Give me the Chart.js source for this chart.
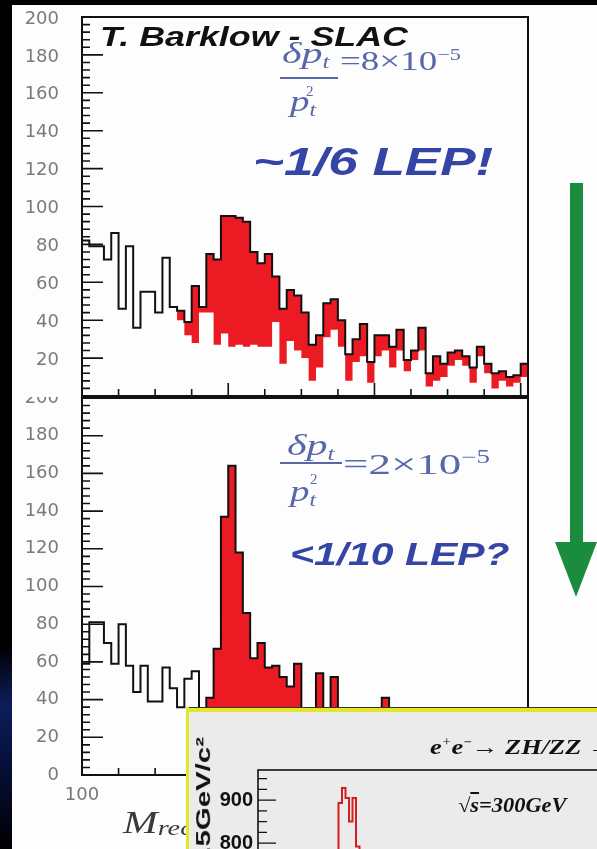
<!DOCTYPE html>
<html><head><meta charset="utf-8">
<script src="https://cdn.jsdelivr.net/npm/chart.js@4.4.1/dist/chart.umd.min.js"></script>
<style>
html,body{margin:0;padding:0;background:#000;width:597px;height:849px;overflow:hidden;position:relative;font-family:'Liberation Sans',sans-serif}
#slide{position:absolute;left:12px;top:5px;width:585px;height:844px;background:#fdfdfd}
#glow{position:absolute;left:0;top:560px;width:12px;height:289px;background:linear-gradient(170deg,#000 0%,#000 30%,#0d1d5c 50%,#06103a 70%,#000 100%)}
canvas{position:absolute}
#cTop{left:12px;top:5px;background:#fdfdfd;z-index:3}
#cBot{left:12px;top:380px;z-index:2}
.t{position:absolute;white-space:nowrap;line-height:1;transform-origin:0 0;z-index:5}
.fml{font-family:'Liberation Serif',serif;color:#5867a8}
.fml sub{font-size:0.6em;vertical-align:-0.25em}
.fml sup{font-size:0.6em;vertical-align:0.6em}
.bar{position:absolute;height:2px;background:#5867a8;z-index:5}
.lep{font-family:'Liberation Sans',sans-serif;font-style:italic;font-weight:bold;color:#3545a5}
#inset{position:absolute;left:186px;top:707px;width:411px;height:142px;overflow:hidden;background:#ebebeb;z-index:10}
#inset canvas{left:0;top:0}
#ytitle{position:absolute;right:405px;top:30px;font:bold 21px 'Liberation Sans',sans-serif;line-height:1;white-space:nowrap;transform-origin:100% 0;transform:rotate(-90deg) scaleX(1.4);color:#111}
</style></head>
<body>
<div id="slide"></div>
<div id="glow"></div>
<canvas id="cBot" width="560" height="469"></canvas>
<canvas id="cTop" width="530" height="392"></canvas>

<div class="t" style="left:100px;top:21px;font:italic bold 28px 'Liberation Sans',sans-serif;color:#111;transform:scaleX(1.28)">T. Barklow - SLAC</div>

<div class="t fml" style="left:282px;top:38px;font-style:italic;font-size:30px;transform:scaleX(1.4)">δp<sub>t</sub></div>
<div class="bar" style="left:280px;top:77px;width:58px"></div>
<div class="t fml" style="left:290px;top:86px;font-style:italic;font-size:30px;transform:scaleX(1.3)">p<sub>t</sub></div>
<div class="t fml" style="left:306px;top:84px;font-size:15px">2</div>
<div class="t fml" style="left:340px;top:47px;font-size:27px;transform:scaleX(1.37)">=8×10<sup>−5</sup></div>
<div class="t lep" style="left:253px;top:142px;font-size:39px;transform:scaleX(1.36)">~1/6 LEP!</div>

<div class="t fml" style="left:287px;top:430px;font-style:italic;font-size:30px;transform:scaleX(1.4)">δp<sub>t</sub></div>
<div class="bar" style="left:280px;top:462px;width:62px"></div>
<div class="t fml" style="left:290px;top:476px;font-style:italic;font-size:30px;transform:scaleX(1.3)">p<sub>t</sub></div>
<div class="t fml" style="left:310px;top:472px;font-size:15px">2</div>
<div class="t fml" style="left:343px;top:448px;font-size:30px;transform:scaleX(1.5)">=2×10<sup>−5</sup></div>
<div class="t lep" style="left:290px;top:539px;font-size:31px;transform:scaleX(1.32)">&lt;1/10 LEP?</div>

<div class="t" style="left:123px;top:804px;font:italic 32px 'Liberation Serif',serif;color:#3a3a3a;transform:scaleX(1.3)">M<sub style="font-size:0.68em;vertical-align:-0.1em">recoil</sub></div>

<svg style="position:absolute;left:0;top:0;z-index:4" width="597" height="849">
  <rect x="570" y="183" width="13" height="362" fill="#1b8c3e"/>
  <polygon points="555,542 597,542 576,597" fill="#1b8c3e"/>
</svg>

<div id="inset">
  <canvas id="cIn" width="456" height="530"></canvas>
  <div style="position:absolute;left:0;top:0;width:411px;height:5px;background:linear-gradient(#333 0 1px,#e5e52a 1px);z-index:3"></div>
  <div style="position:absolute;left:0;top:0;width:3px;height:142px;background:#e5e52a;z-index:3"></div>
  <div class="t" style="left:244px;top:27px;font:italic bold 22px 'Liberation Serif',serif;color:#111;transform:scaleX(1.2)">e<sup style="font-size:0.55em;font-weight:normal">+</sup>e<sup style="font-size:0.55em">−</sup>→ ZH/ZZ →</div>
  <div class="t" style="left:272px;top:87px;font:italic bold 20px 'Liberation Serif',serif;color:#111;transform:scaleX(1.12)">√<span style="text-decoration:overline">s</span>=300GeV</div>
  <div id="ytitle">Events / 0.5GeV/c²</div>
</div>

<script>
// ---------- data ----------
const massStart = 100;          // GeV, first bin low edge
const massBinWidth = 1;         // GeV
const xTickLabels = [100, 120, 140, 160];

const topTotal = [82,79,79,72,86,46,79,36,55,55,
                  44,73,47,45,39,58,47,75,72,95,
                  95,94,92,76,70,75,63,46,56,53,
                  44,27,32,49,51,40,22,30,38,18,
                  32,32,26,35,19,24,36,12,21,17,
                  23,24,21,15,26,17,12,13,10,11,17];
const topBackground = [82,79,79,72,86,46,79,36,55,55,
                  44,73,47,40,32,28,44,44,27,33,
                  26,27,26,27,26,26,39,17,29,24,
                  20,8,15,31,35,26,8,18,21,7,
                  21,24,15,24,13,19,24,5,8,10,
                  16,19,16,7,21,12,4,8,5,7,10];

const bottomTotal = [59,81,81,70,59,80,58,44,58,39,
                  39,57,46,36,51,55,33,41,67,137,
                  164,118,86,62,70,57,58,52,47,59,
                  30,28,54,24,52,30,26,22,27,25,
                  31,41,20,26,18,22,19,24,17,15,
                  20,16,14,18,13,15,12,10,13,11,10];
const bottomBackground = [59,81,81,70,59,80,58,44,58,39,
                  39,57,46,36,51,55,30,30,28,30,
                  27,29,26,28,25,27,24,26,23,25,
                  22,21,24,19,22,20,18,17,19,16,
                  18,17,15,18,13,16,14,17,12,11,
                  14,12,10,13,9,11,9,7,10,8,8];

const insetStart = 116;         // GeV
const insetBinWidth = 0.5;      // GeV
const insetCounts = [120,150,210,300,420,560,720,893,928,905,
                     850,905,792,640,470,330,240,190,160,140];

// ---------- helpers ----------
function histPoints(start, width, values) {
  const pts = [{x: start, y: 0}];
  values.forEach((v, i) => pts.push({x: start + i * width, y: v}));
  const end = start + values.length * width;
  pts.push({x: end, y: values[values.length - 1]});
  pts.push({x: end, y: 0});
  return pts;
}

const frameTicks = {
  id: 'frameTicks',
  afterDatasetsDraw(chart, args, o) {
    if (!o || !o.on) return;
    const {ctx, chartArea: a} = chart;
    const xs = chart.scales.x, ys = chart.scales.y;
    const isMul = (v, m) => Math.abs(v / m - Math.round(v / m)) < 1e-6;
    ctx.save();
    ctx.strokeStyle = '#111';
    ctx.lineWidth = o.tickWidth;
    ctx.beginPath();
    for (let v = o.yFrom; v <= o.yTo + 1e-9; v += o.yMinor) {
      const py = ys.getPixelForValue(v);
      const len = isMul(v, o.yMajor) ? o.yMajorLen : o.yMinorLen;
      ctx.moveTo(a.left, py); ctx.lineTo(a.left + len, py);
    }
    if (o.xMinor) {
      for (let v = o.xFrom; v <= o.xTo + 1e-9; v += o.xMinor) {
        const px = xs.getPixelForValue(v);
        const len = isMul(v - o.xFrom, o.xMajor) ? o.xMajorLen : o.xMinorLen;
        ctx.moveTo(px, a.bottom); ctx.lineTo(px, a.bottom - len);
      }
    }
    ctx.stroke();
    ctx.lineWidth = o.frameWidth;
    ctx.strokeRect(a.left, a.top, a.right - a.left, a.bottom - a.top);
    ctx.restore();
  }
};
Chart.register(frameTicks);
Chart.defaults.font.family = "'DejaVu Sans', sans-serif";

const fixY = w => s => { s.width = w; s.paddingTop = 0; s.paddingBottom = 0; };

function stackedHist(canvasId, total, background, opts) {
  const tot = histPoints(massStart, massBinWidth, total);
  const bkg = histPoints(massStart, massBinWidth, background);
  const common = {stepped: 'before', pointRadius: 0, tension: 0};
  return new Chart(document.getElementById(canvasId), {
    type: 'line',
    data: {datasets: [
      Object.assign({data: tot, borderColor: '#111', borderWidth: 2, fill: false, borderJoinStyle: 'miter'}, common),
      Object.assign({data: bkg, borderWidth: 0, borderColor: 'rgba(0,0,0,0)', backgroundColor: '#fdfdfd', fill: 'origin'}, common),
      Object.assign({data: tot, borderWidth: 0, borderColor: 'rgba(0,0,0,0)', backgroundColor: '#ec1a22', fill: 'origin'}, common)
    ]},
    options: {
      responsive: false, animation: false, devicePixelRatio: 1, events: [],
      layout: {padding: opts.padding},
      plugins: {legend: {display: false}, tooltip: {enabled: false},
        frameTicks: {on: true, tickWidth: 1.6, frameWidth: 2,
          yFrom: 0, yTo: 200, yMinor: 4, yMajor: 20, yMajorLen: 21, yMinorLen: 8,
          xFrom: 100, xTo: 160, xMinor: 5, xMajor: 20, xMajorLen: 13, xMinorLen: 7}},
      scales: {
        x: {type: 'linear', min: 100, max: 161,
            afterFit: s => { s.height = opts.xHeight; },
            afterBuildTicks: s => { s.ticks = xTickLabels.map(v => ({value: v})); },
            grid: {display: false, drawTicks: false}, border: {display: false},
            ticks: {display: opts.xLabels, padding: 10, color: '#777', font: {size: 18}, maxRotation: 0, autoSkip: false}},
        y: {type: 'linear', min: 0, max: 200,
            afterFit: fixY(70),
            grid: {display: false, drawTicks: false}, border: {display: false},
            ticks: {stepSize: 20, padding: 23, color: '#7a7a7a', font: {size: 18}, labelOffset: opts.labelOffset,
                    callback: v => (opts.hideZero && v === 0) ? '' : v}}
      }
    }
  });
}

stackedHist('cTop', topTotal, topBackground,
  {padding: {left: 0, top: 12, right: 14, bottom: 0}, xHeight: 1, xLabels: false, hideZero: true, labelOffset: 2});
stackedHist('cBot', bottomTotal, bottomBackground,
  {padding: {left: 0, top: 18, right: 44, bottom: 0}, xHeight: 74, xLabels: true, hideZero: false, labelOffset: 0});

new Chart(document.getElementById('cIn'), {
  type: 'line',
  data: {datasets: [{data: histPoints(insetStart, insetBinWidth, insetCounts), stepped: 'before',
    pointRadius: 0, borderColor: '#d21e1e', borderWidth: 2, fill: false}]},
  options: {
    responsive: false, animation: false, devicePixelRatio: 1, events: [],
    layout: {padding: {left: 0, top: 63, right: 20, bottom: 0}},
    plugins: {legend: {display: false}, tooltip: {enabled: false},
      frameTicks: {on: true, tickWidth: 1.4, frameWidth: 1.6,
        yFrom: 0, yTo: 970, yMinor: 25, yMajor: 100, yMajorLen: 18, yMinorLen: 9, xMinor: 0}},
    scales: {
      x: {type: 'linear', min: 108, max: 160, afterFit: s => { s.height = 50; },
          grid: {display: false, drawTicks: false}, border: {display: false}, ticks: {display: false}},
      y: {type: 'linear', min: 0, max: 970, afterFit: fixY(72),
          grid: {display: false, drawTicks: false}, border: {display: false},
          ticks: {stepSize: 100, includeBounds: false, padding: 5, color: '#111',
                  font: {family: "'Liberation Sans', sans-serif", size: 20, weight: 'bold'}}}
    }
  }
});
</script>
</body></html>
